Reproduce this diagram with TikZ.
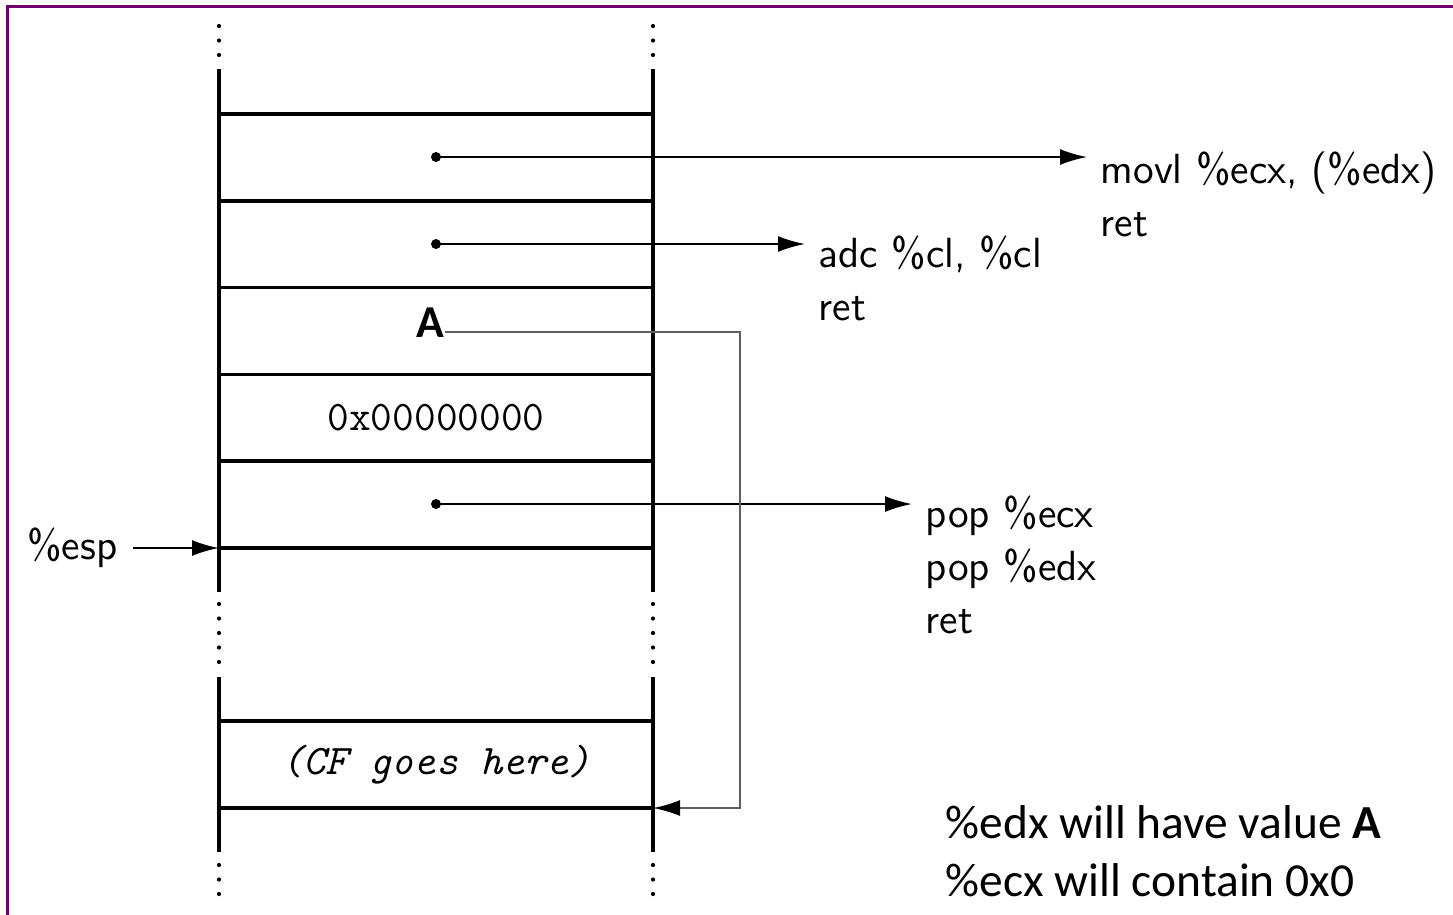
\documentclass[tikz,border=0pt]{standalone}
\usepackage{fontspec}
\newfontfamily\slidefont{Carlito}
\usepackage{tikz}
\usetikzlibrary{arrows.meta,positioning,calc}
\definecolor{framePurple}{RGB}{112,0,112}
\definecolor{linkGray}{RGB}{95,95,95}

\begin{document}
\begin{tikzpicture}[
  wall/.style={line width=1pt},
  ptr/.style={-{Latex[length=0.27cm,width=0.16cm,color=black]}, line width=0.6pt},
  ptrdot/.style={circle, fill, inner sep=0pt, minimum size=0.1cm},
  gadget/.style={anchor=north west, align=left, inner xsep=0.13cm,
                 inner ysep=0pt, font=\fontsize{12}{15}\selectfont\sffamily},
  cell/.style={font=\fontsize{12}{15}\selectfont\ttfamily},
  note/.style={anchor=north west, align=left, inner sep=0pt,
               font=\slidefont\fontsize{13.5}{16.5}\selectfont}
]
  \useasboundingbox (0,0) rectangle (14.53,-9.14);
  \draw[framePurple, line width=0.7pt] (0.075,-0.065) rectangle (14.8,-9.4);

  % walls of the stack, broken by dots
  \foreach \x in {2.19,6.53} {
    \draw[wall] (\x,-0.69) -- (\x,-5.92);
    \draw[wall] (\x,-6.77) -- (\x,-8.52);
    \foreach \y in {0.26,0.405,0.55,6.04,6.185,6.33,6.475,6.62,8.65,8.795,8.94}
      \fill (\x,-\y) circle (0.021);
  }
  % slot boundaries
  \foreach \y [count=\i] in {1.14,2.008,2.876,3.744,4.612,5.48,7.21,8.08}
    \draw[wall] (2.19,-\y) coordinate (l\i) -- (6.53,-\y) coordinate (r\i);

  % slot contents
  \node[ptrdot] (p1) at (4.36,-1.57) {};
  \node[ptrdot] (p2) at (4.36,-2.44) {};
  \node[inner sep=0pt, font=\slidefont\fontsize{13}{15}\selectfont\bfseries]
    (A) at (4.30,-3.225) {A};
  \node[cell] (zero) at (4.36,-4.175) {0x00000000};
  \node[ptrdot] (p3) at (4.36,-5.04) {};
  \node[cell] (cf) at (4.36,-7.645) {\itshape (CF goes here)};

  % gadgets the return addresses point to
  \node[gadget] (g1) at (10.87,-1.515) {movl \%ecx, (\%edx)\\ret};
  \node[gadget] (g2) at (8.05,-2.355) {adc \%cl, \%cl\\ret};
  \node[gadget] (g3) at (9.12,-4.955) {pop \%ecx\\pop \%edx\\ret};
  \foreach \p/\g in {p1/g1,p2/g2,p3/g3}
    \draw[ptr] (\p.center) -- (\p.center -| \g.west);

  % stack pointer
  \node[gadget, anchor=east, inner xsep=0.15cm] (esp) at (1.33,-5.48) {\%esp};
  \draw[ptr] (esp.east) -- (l6);

  % A points down to the CF slot
  \draw[ptr, linkGray] ([yshift=-0.095cm]A.east) -| ($(r8)+(0.87,0)$) -- (r8);

  \node[note] (regs) at (9.45,-8.05)
    {\%edx will have value \textbf{A}\\\%ecx will contain 0x0};
\end{tikzpicture}
\end{document}
